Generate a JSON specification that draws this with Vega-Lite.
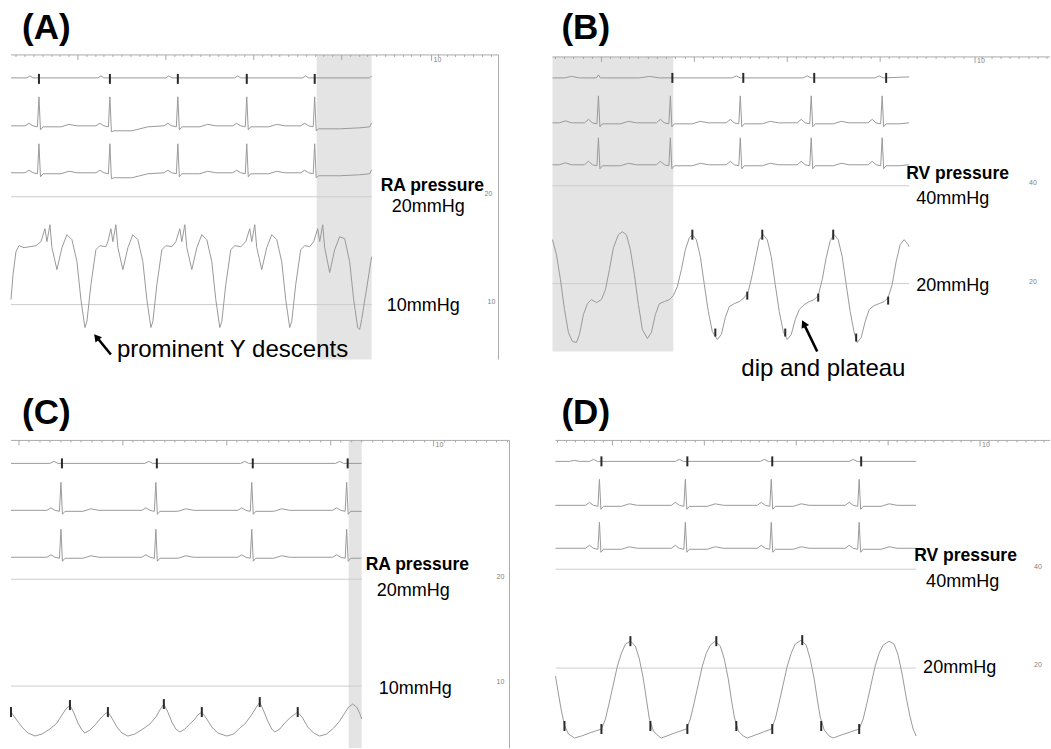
{
"$schema": "https://vega.github.io/schema/vega-lite/v6.json",
"width": 1051, "height": 749,
"autosize": {"type": "fit", "contains": "padding"},
"padding": 0,
"background": "white",
"config": {"view": {"stroke": null}},
"encoding": {
 "x": {"field": "x", "type": "quantitative", "scale": {"domain": [0, 1051], "nice": false, "zero": false}, "axis": null},
 "y": {"field": "y", "type": "quantitative", "scale": {"domain": [0, 749], "nice": false, "zero": false, "reverse": true}, "axis": null}
},
"datasets": {
 "shade": [
  {"p":"A","x":317,"x2":372,"y":55,"y2":360},
  {"p":"B","x":553,"x2":674,"y":57,"y2":352},
  {"p":"C","x":349,"x2":362,"y":441,"y2":749}
 ],
 "ln": [
  {"k":"ruler","x":11,"x2":499,"y":55,"y2":55},
  {"k":"ruler","x":553,"x2":1051,"y":57,"y2":57},
  {"k":"ruler","x":11,"x2":510,"y":441,"y2":441},
  {"k":"ruler","x":556,"x2":1051,"y":441,"y2":441},
  {"k":"ruler","x":499,"x2":499,"y":55,"y2":360},
  {"k":"ruler","x":510,"x2":510,"y":441,"y2":749},
  {"k":"ref","x":11,"x2":372,"y":197,"y2":197},
  {"k":"ref","x":11,"x2":372,"y":305,"y2":305},
  {"k":"ref","x":553,"x2":910,"y":186,"y2":186},
  {"k":"ref","x":553,"x2":910,"y":284,"y2":284},
  {"k":"ref","x":11,"x2":362,"y":580,"y2":580},
  {"k":"ref","x":11,"x2":362,"y":687,"y2":687},
  {"k":"ref","x":556,"x2":917,"y":570,"y2":570},
  {"k":"ref","x":556,"x2":917,"y":669,"y2":669}
 ],
 "rt": [
  {"x":16,"y":55,"y2":57},{"x":25,"y":55,"y2":57},{"x":34,"y":55,"y2":57},{"x":43,"y":55,"y2":57},{"x":52,"y":55,"y2":57},{"x":60,"y":55,"y2":57},{"x":69,"y":55,"y2":57},{"x":78,"y":55,"y2":60},{"x":87,"y":55,"y2":57},{"x":96,"y":55,"y2":57},{"x":104,"y":55,"y2":57},{"x":113,"y":55,"y2":57},{"x":122,"y":55,"y2":57},{"x":131,"y":55,"y2":57},{"x":140,"y":55,"y2":57},{"x":148,"y":55,"y2":57},{"x":157,"y":55,"y2":57},{"x":166,"y":55,"y2":60},{"x":175,"y":55,"y2":57},{"x":184,"y":55,"y2":57},{"x":192,"y":55,"y2":57},{"x":201,"y":55,"y2":57},{"x":210,"y":55,"y2":57},{"x":219,"y":55,"y2":57},{"x":228,"y":55,"y2":57},{"x":236,"y":55,"y2":57},{"x":245,"y":55,"y2":57},{"x":254,"y":55,"y2":60},{"x":263,"y":55,"y2":57},{"x":272,"y":55,"y2":57},{"x":280,"y":55,"y2":57},{"x":289,"y":55,"y2":57},{"x":298,"y":55,"y2":57},{"x":307,"y":55,"y2":57},{"x":316,"y":55,"y2":57},{"x":324,"y":55,"y2":57},{"x":333,"y":55,"y2":57},{"x":342,"y":55,"y2":60},{"x":351,"y":55,"y2":57},{"x":360,"y":55,"y2":57},{"x":368,"y":55,"y2":57},{"x":377,"y":55,"y2":57},{"x":386,"y":55,"y2":57},{"x":395,"y":55,"y2":57},{"x":404,"y":55,"y2":57},{"x":412,"y":55,"y2":57},{"x":421,"y":55,"y2":57},{"x":432,"y":55,"y2":61},{"x":439,"y":55,"y2":57},{"x":448,"y":55,"y2":57},{"x":456,"y":55,"y2":57},{"x":465,"y":55,"y2":57},{"x":474,"y":55,"y2":57},{"x":483,"y":55,"y2":57},{"x":492,"y":55,"y2":57},
  {"x":556,"y":57,"y2":59},{"x":565,"y":57,"y2":59},{"x":574,"y":57,"y2":59},{"x":584,"y":57,"y2":59},{"x":593,"y":57,"y2":59},{"x":602,"y":57,"y2":62},{"x":611,"y":57,"y2":59},{"x":621,"y":57,"y2":59},{"x":630,"y":57,"y2":59},{"x":639,"y":57,"y2":59},{"x":649,"y":57,"y2":59},{"x":658,"y":57,"y2":59},{"x":667,"y":57,"y2":59},{"x":676,"y":57,"y2":59},{"x":686,"y":57,"y2":59},{"x":695,"y":57,"y2":62},{"x":704,"y":57,"y2":59},{"x":714,"y":57,"y2":59},{"x":723,"y":57,"y2":59},{"x":732,"y":57,"y2":59},{"x":741,"y":57,"y2":59},{"x":751,"y":57,"y2":59},{"x":760,"y":57,"y2":59},{"x":769,"y":57,"y2":59},{"x":779,"y":57,"y2":59},{"x":788,"y":57,"y2":62},{"x":797,"y":57,"y2":59},{"x":807,"y":57,"y2":59},{"x":816,"y":57,"y2":59},{"x":825,"y":57,"y2":59},{"x":834,"y":57,"y2":59},{"x":844,"y":57,"y2":59},{"x":853,"y":57,"y2":59},{"x":862,"y":57,"y2":59},{"x":872,"y":57,"y2":59},{"x":881,"y":57,"y2":62},{"x":890,"y":57,"y2":59},{"x":900,"y":57,"y2":59},{"x":909,"y":57,"y2":59},{"x":918,"y":57,"y2":59},{"x":927,"y":57,"y2":59},{"x":937,"y":57,"y2":59},{"x":946,"y":57,"y2":59},{"x":955,"y":57,"y2":59},{"x":965,"y":57,"y2":59},{"x":976,"y":57,"y2":63},{"x":983,"y":57,"y2":59},{"x":993,"y":57,"y2":59},{"x":1002,"y":57,"y2":59},{"x":1011,"y":57,"y2":59},{"x":1020,"y":57,"y2":59},{"x":1030,"y":57,"y2":59},{"x":1039,"y":57,"y2":59},{"x":1048,"y":57,"y2":59},
  {"x":19,"y":441,"y2":446},{"x":29,"y":441,"y2":443},{"x":40,"y":441,"y2":443},{"x":50,"y":441,"y2":443},{"x":61,"y":441,"y2":443},{"x":71,"y":441,"y2":443},{"x":81,"y":441,"y2":443},{"x":92,"y":441,"y2":443},{"x":102,"y":441,"y2":443},{"x":113,"y":441,"y2":443},{"x":123,"y":441,"y2":446},{"x":133,"y":441,"y2":443},{"x":144,"y":441,"y2":443},{"x":154,"y":441,"y2":443},{"x":165,"y":441,"y2":443},{"x":175,"y":441,"y2":443},{"x":185,"y":441,"y2":443},{"x":196,"y":441,"y2":443},{"x":206,"y":441,"y2":443},{"x":217,"y":441,"y2":443},{"x":227,"y":441,"y2":446},{"x":237,"y":441,"y2":443},{"x":248,"y":441,"y2":443},{"x":258,"y":441,"y2":443},{"x":269,"y":441,"y2":443},{"x":279,"y":441,"y2":443},{"x":289,"y":441,"y2":443},{"x":300,"y":441,"y2":443},{"x":310,"y":441,"y2":443},{"x":321,"y":441,"y2":443},{"x":331,"y":441,"y2":446},{"x":341,"y":441,"y2":443},{"x":352,"y":441,"y2":443},{"x":362,"y":441,"y2":443},{"x":373,"y":441,"y2":443},{"x":383,"y":441,"y2":443},{"x":393,"y":441,"y2":443},{"x":404,"y":441,"y2":443},{"x":414,"y":441,"y2":443},{"x":425,"y":441,"y2":443},{"x":434,"y":441,"y2":447},{"x":445,"y":441,"y2":443},{"x":456,"y":441,"y2":443},{"x":466,"y":441,"y2":443},{"x":477,"y":441,"y2":443},{"x":487,"y":441,"y2":443},{"x":497,"y":441,"y2":443},{"x":508,"y":441,"y2":443},
  {"x":558,"y":441,"y2":443},{"x":567,"y":441,"y2":443},{"x":576,"y":441,"y2":443},{"x":585,"y":441,"y2":443},{"x":595,"y":441,"y2":443},{"x":604,"y":441,"y2":443},{"x":613,"y":441,"y2":446},{"x":622,"y":441,"y2":443},{"x":631,"y":441,"y2":443},{"x":641,"y":441,"y2":443},{"x":650,"y":441,"y2":443},{"x":659,"y":441,"y2":443},{"x":668,"y":441,"y2":443},{"x":677,"y":441,"y2":443},{"x":686,"y":441,"y2":443},{"x":696,"y":441,"y2":443},{"x":705,"y":441,"y2":446},{"x":714,"y":441,"y2":443},{"x":723,"y":441,"y2":443},{"x":732,"y":441,"y2":443},{"x":742,"y":441,"y2":443},{"x":751,"y":441,"y2":443},{"x":760,"y":441,"y2":443},{"x":769,"y":441,"y2":443},{"x":778,"y":441,"y2":443},{"x":788,"y":441,"y2":443},{"x":797,"y":441,"y2":446},{"x":806,"y":441,"y2":443},{"x":815,"y":441,"y2":443},{"x":824,"y":441,"y2":443},{"x":834,"y":441,"y2":443},{"x":843,"y":441,"y2":443},{"x":852,"y":441,"y2":443},{"x":861,"y":441,"y2":443},{"x":870,"y":441,"y2":443},{"x":880,"y":441,"y2":443},{"x":889,"y":441,"y2":446},{"x":898,"y":441,"y2":443},{"x":907,"y":441,"y2":443},{"x":916,"y":441,"y2":443},{"x":926,"y":441,"y2":443},{"x":935,"y":441,"y2":443},{"x":944,"y":441,"y2":443},{"x":953,"y":441,"y2":443},{"x":962,"y":441,"y2":443},{"x":972,"y":441,"y2":443},{"x":981,"y":441,"y2":447},{"x":990,"y":441,"y2":443},{"x":999,"y":441,"y2":443},{"x":1008,"y":441,"y2":443},{"x":1018,"y":441,"y2":443},{"x":1027,"y":441,"y2":443},{"x":1036,"y":441,"y2":443},{"x":1045,"y":441,"y2":443}
 ],
 "tr": [
  {"s":"A1","x":11,"y":78},{"s":"A1","x":27,"y":78},{"s":"A1","x":30,"y":76},{"s":"A1","x":33,"y":78},{"s":"A1","x":98,"y":78},{"s":"A1","x":101,"y":76},{"s":"A1","x":104,"y":78},{"s":"A1","x":166,"y":78},{"s":"A1","x":169,"y":76},{"s":"A1","x":172,"y":78},{"s":"A1","x":235,"y":78},{"s":"A1","x":238,"y":76},{"s":"A1","x":241,"y":78},{"s":"A1","x":303,"y":78},{"s":"A1","x":306,"y":76},{"s":"A1","x":309,"y":78},{"s":"A1","x":370,"y":78},{"s":"A1","x":372,"y":76},

  {"s":"A2","x":11,"y":126},{"s":"A2","x":25,"y":126},{"s":"A2","x":29,"y":123.5},{"s":"A2","x":33,"y":126},{"s":"A2","x":37.5,"y":127},{"s":"A2","x":39,"y":97},{"s":"A2","x":40.5,"y":130},{"s":"A2","x":43,"y":127},{"s":"A2","x":61,"y":127},{"s":"A2","x":69,"y":124.5},{"s":"A2","x":77,"y":126},
  {"s":"A2","x":96,"y":126},{"s":"A2","x":100,"y":123.5},{"s":"A2","x":104,"y":126},{"s":"A2","x":108.5,"y":127},{"s":"A2","x":110,"y":97},{"s":"A2","x":111.5,"y":132},{"s":"A2","x":114,"y":131},{"s":"A2","x":132,"y":131},{"s":"A2","x":140,"y":129},{"s":"A2","x":148,"y":127},
  {"s":"A2","x":164,"y":126},{"s":"A2","x":168,"y":123.5},{"s":"A2","x":172,"y":126},{"s":"A2","x":176.5,"y":127},{"s":"A2","x":178,"y":97},{"s":"A2","x":179.5,"y":130},{"s":"A2","x":182,"y":127},{"s":"A2","x":200,"y":127},{"s":"A2","x":208,"y":124.5},{"s":"A2","x":216,"y":126},
  {"s":"A2","x":233,"y":126},{"s":"A2","x":237,"y":123.5},{"s":"A2","x":241,"y":126},{"s":"A2","x":245.5,"y":127},{"s":"A2","x":247,"y":97},{"s":"A2","x":248.5,"y":130},{"s":"A2","x":251,"y":127},{"s":"A2","x":269,"y":127},{"s":"A2","x":277,"y":124.5},{"s":"A2","x":285,"y":126},
  {"s":"A2","x":301,"y":126},{"s":"A2","x":305,"y":123.5},{"s":"A2","x":309,"y":126},{"s":"A2","x":313.5,"y":127},{"s":"A2","x":315,"y":97},{"s":"A2","x":316.5,"y":131},{"s":"A2","x":319,"y":129},{"s":"A2","x":340,"y":129},{"s":"A2","x":360,"y":128},{"s":"A2","x":370,"y":127},{"s":"A2","x":372,"y":123},

  {"s":"A3","x":11,"y":173},{"s":"A3","x":25,"y":173},{"s":"A3","x":29,"y":170.5},{"s":"A3","x":33,"y":173},{"s":"A3","x":37.5,"y":174},{"s":"A3","x":39,"y":144},{"s":"A3","x":40.5,"y":177},{"s":"A3","x":43,"y":174},{"s":"A3","x":61,"y":174},{"s":"A3","x":69,"y":171.5},{"s":"A3","x":77,"y":173},
  {"s":"A3","x":96,"y":173},{"s":"A3","x":100,"y":170.5},{"s":"A3","x":104,"y":173},{"s":"A3","x":108.5,"y":174},{"s":"A3","x":110,"y":144},{"s":"A3","x":111.5,"y":179},{"s":"A3","x":114,"y":178},{"s":"A3","x":132,"y":178},{"s":"A3","x":140,"y":176},{"s":"A3","x":148,"y":174},
  {"s":"A3","x":164,"y":173},{"s":"A3","x":168,"y":170.5},{"s":"A3","x":172,"y":173},{"s":"A3","x":176.5,"y":174},{"s":"A3","x":178,"y":144},{"s":"A3","x":179.5,"y":177},{"s":"A3","x":182,"y":174},{"s":"A3","x":200,"y":174},{"s":"A3","x":208,"y":171.5},{"s":"A3","x":216,"y":173},
  {"s":"A3","x":233,"y":173},{"s":"A3","x":237,"y":170.5},{"s":"A3","x":241,"y":173},{"s":"A3","x":245.5,"y":174},{"s":"A3","x":247,"y":144},{"s":"A3","x":248.5,"y":177},{"s":"A3","x":251,"y":174},{"s":"A3","x":269,"y":174},{"s":"A3","x":277,"y":171.5},{"s":"A3","x":285,"y":173},
  {"s":"A3","x":301,"y":173},{"s":"A3","x":305,"y":170.5},{"s":"A3","x":309,"y":173},{"s":"A3","x":313.5,"y":174},{"s":"A3","x":315,"y":144},{"s":"A3","x":316.5,"y":178},{"s":"A3","x":319,"y":176},{"s":"A3","x":340,"y":176},{"s":"A3","x":360,"y":175},{"s":"A3","x":370,"y":174},{"s":"A3","x":372,"y":170},

  {"s":"A4","x":11,"y":300},{"s":"A4","x":13,"y":275},{"s":"A4","x":16,"y":252},{"s":"A4","x":19,"y":246},{"s":"A4","x":24,"y":248},{"s":"A4","x":30,"y":247},{"s":"A4","x":36,"y":246},
  {"s":"A4","x":41,"y":242},{"s":"A4","x":45,"y":229},{"s":"A4","x":47,"y":242},{"s":"A4","x":50,"y":225},{"s":"A4","x":52,"y":248},{"s":"A4","x":57,"y":270},{"s":"A4","x":62,"y":248},{"s":"A4","x":67,"y":235},{"s":"A4","x":72,"y":240},{"s":"A4","x":77,"y":262},{"s":"A4","x":81,"y":300},{"s":"A4","x":85,"y":328},{"s":"A4","x":87,"y":322},{"s":"A4","x":91,"y":285},{"s":"A4","x":96,"y":250},{"s":"A4","x":100,"y":246},{"s":"A4","x":106,"y":247},
  {"s":"A4","x":108,"y":242},{"s":"A4","x":111,"y":229},{"s":"A4","x":113,"y":242},{"s":"A4","x":116,"y":225},{"s":"A4","x":118,"y":248},{"s":"A4","x":123,"y":270},{"s":"A4","x":128,"y":248},{"s":"A4","x":133,"y":235},{"s":"A4","x":138,"y":240},{"s":"A4","x":143,"y":262},{"s":"A4","x":147,"y":300},{"s":"A4","x":151,"y":328},{"s":"A4","x":153,"y":322},{"s":"A4","x":157,"y":285},{"s":"A4","x":162,"y":250},{"s":"A4","x":166,"y":246},{"s":"A4","x":172,"y":247},
  {"s":"A4","x":176,"y":242},{"s":"A4","x":180,"y":229},{"s":"A4","x":182,"y":242},{"s":"A4","x":185,"y":225},{"s":"A4","x":187,"y":248},{"s":"A4","x":192,"y":270},{"s":"A4","x":197,"y":248},{"s":"A4","x":202,"y":235},{"s":"A4","x":207,"y":240},{"s":"A4","x":212,"y":262},{"s":"A4","x":216,"y":300},{"s":"A4","x":220,"y":328},{"s":"A4","x":222,"y":322},{"s":"A4","x":226,"y":285},{"s":"A4","x":231,"y":250},{"s":"A4","x":235,"y":246},{"s":"A4","x":241,"y":247},
  {"s":"A4","x":246,"y":242},{"s":"A4","x":250,"y":229},{"s":"A4","x":252,"y":242},{"s":"A4","x":255,"y":225},{"s":"A4","x":257,"y":248},{"s":"A4","x":262,"y":270},{"s":"A4","x":267,"y":248},{"s":"A4","x":272,"y":235},{"s":"A4","x":277,"y":240},{"s":"A4","x":282,"y":262},{"s":"A4","x":286,"y":300},{"s":"A4","x":290,"y":328},{"s":"A4","x":292,"y":322},{"s":"A4","x":296,"y":285},{"s":"A4","x":301,"y":250},{"s":"A4","x":305,"y":246},{"s":"A4","x":310,"y":247},
  {"s":"A4","x":314,"y":242},{"s":"A4","x":318,"y":229},{"s":"A4","x":320,"y":242},{"s":"A4","x":323,"y":225},{"s":"A4","x":325,"y":248},{"s":"A4","x":330,"y":273},{"s":"A4","x":335,"y":250},{"s":"A4","x":340,"y":237},{"s":"A4","x":345,"y":239},{"s":"A4","x":350,"y":262},{"s":"A4","x":354,"y":300},{"s":"A4","x":358,"y":328},{"s":"A4","x":360,"y":330},{"s":"A4","x":362,"y":320},{"s":"A4","x":366,"y":295},{"s":"A4","x":372,"y":257},

  {"s":"B1","x":553,"y":78},{"s":"B1","x":565,"y":78},{"s":"B1","x":572,"y":76.5},{"s":"B1","x":580,"y":78},{"s":"B1","x":597,"y":78},{"s":"B1","x":599,"y":75},{"s":"B1","x":601,"y":78},{"s":"B1","x":640,"y":78},{"s":"B1","x":650,"y":76.5},{"s":"B1","x":660,"y":78},{"s":"B1","x":733,"y":78},{"s":"B1","x":737,"y":76},{"s":"B1","x":741,"y":78},{"s":"B1","x":804,"y":78},{"s":"B1","x":808,"y":76},{"s":"B1","x":812,"y":78},{"s":"B1","x":876,"y":78},{"s":"B1","x":880,"y":76},{"s":"B1","x":884,"y":78},{"s":"B1","x":910,"y":77},

  {"s":"B2","x":553,"y":123},{"s":"B2","x":560,"y":123},{"s":"B2","x":566,"y":121},{"s":"B2","x":572,"y":123},
  {"s":"B2","x":585,"y":123},{"s":"B2","x":589,"y":119.5},{"s":"B2","x":593,"y":123},{"s":"B2","x":597.5,"y":124},{"s":"B2","x":599,"y":96},{"s":"B2","x":600.5,"y":127},{"s":"B2","x":603,"y":124},{"s":"B2","x":621,"y":124},{"s":"B2","x":629,"y":121.5},{"s":"B2","x":637,"y":123},
  {"s":"B2","x":657,"y":123},{"s":"B2","x":661,"y":119.5},{"s":"B2","x":665,"y":123},{"s":"B2","x":669.5,"y":124},{"s":"B2","x":671,"y":96},{"s":"B2","x":672.5,"y":127},{"s":"B2","x":675,"y":124},{"s":"B2","x":693,"y":124},{"s":"B2","x":701,"y":121.5},{"s":"B2","x":709,"y":123},
  {"s":"B2","x":727,"y":123},{"s":"B2","x":731,"y":119.5},{"s":"B2","x":735,"y":123},{"s":"B2","x":739.5,"y":124},{"s":"B2","x":741,"y":96},{"s":"B2","x":742.5,"y":127},{"s":"B2","x":745,"y":124},{"s":"B2","x":763,"y":124},{"s":"B2","x":771,"y":121.5},{"s":"B2","x":779,"y":123},
  {"s":"B2","x":798,"y":123},{"s":"B2","x":802,"y":119.5},{"s":"B2","x":806,"y":123},{"s":"B2","x":810.5,"y":124},{"s":"B2","x":812,"y":96},{"s":"B2","x":813.5,"y":127},{"s":"B2","x":816,"y":124},{"s":"B2","x":834,"y":124},{"s":"B2","x":842,"y":121.5},{"s":"B2","x":850,"y":123},
  {"s":"B2","x":869,"y":123},{"s":"B2","x":873,"y":119.5},{"s":"B2","x":877,"y":123},{"s":"B2","x":881.5,"y":124},{"s":"B2","x":883,"y":96},{"s":"B2","x":884.5,"y":127},{"s":"B2","x":887,"y":124},{"s":"B2","x":900,"y":124},{"s":"B2","x":910,"y":123},

  {"s":"B3","x":553,"y":165},{"s":"B3","x":560,"y":165},{"s":"B3","x":566,"y":163},{"s":"B3","x":572,"y":165},
  {"s":"B3","x":585,"y":165},{"s":"B3","x":589,"y":161.5},{"s":"B3","x":593,"y":165},{"s":"B3","x":597.5,"y":166},{"s":"B3","x":599,"y":138},{"s":"B3","x":600.5,"y":169},{"s":"B3","x":603,"y":166},{"s":"B3","x":621,"y":166},{"s":"B3","x":629,"y":163.5},{"s":"B3","x":637,"y":165},
  {"s":"B3","x":657,"y":165},{"s":"B3","x":661,"y":161.5},{"s":"B3","x":665,"y":165},{"s":"B3","x":669.5,"y":166},{"s":"B3","x":671,"y":138},{"s":"B3","x":672.5,"y":169},{"s":"B3","x":675,"y":166},{"s":"B3","x":693,"y":166},{"s":"B3","x":701,"y":163.5},{"s":"B3","x":709,"y":165},
  {"s":"B3","x":727,"y":165},{"s":"B3","x":731,"y":161.5},{"s":"B3","x":735,"y":165},{"s":"B3","x":739.5,"y":166},{"s":"B3","x":741,"y":138},{"s":"B3","x":742.5,"y":169},{"s":"B3","x":745,"y":166},{"s":"B3","x":763,"y":166},{"s":"B3","x":771,"y":163.5},{"s":"B3","x":779,"y":165},
  {"s":"B3","x":798,"y":165},{"s":"B3","x":802,"y":161.5},{"s":"B3","x":806,"y":165},{"s":"B3","x":810.5,"y":166},{"s":"B3","x":812,"y":138},{"s":"B3","x":813.5,"y":169},{"s":"B3","x":816,"y":166},{"s":"B3","x":834,"y":166},{"s":"B3","x":842,"y":163.5},{"s":"B3","x":850,"y":165},
  {"s":"B3","x":869,"y":165},{"s":"B3","x":873,"y":161.5},{"s":"B3","x":877,"y":165},{"s":"B3","x":881.5,"y":166},{"s":"B3","x":883,"y":138},{"s":"B3","x":884.5,"y":169},{"s":"B3","x":887,"y":166},{"s":"B3","x":900,"y":166},{"s":"B3","x":910,"y":165},

  {"s":"B4","x":553,"y":240},{"s":"B4","x":557,"y":255},{"s":"B4","x":561,"y":280},{"s":"B4","x":565,"y":310},{"s":"B4","x":569,"y":333},{"s":"B4","x":573,"y":342},{"s":"B4","x":577,"y":343},{"s":"B4","x":580,"y":335},{"s":"B4","x":584,"y":315},{"s":"B4","x":588,"y":304},{"s":"B4","x":592,"y":300},{"s":"B4","x":597,"y":303},{"s":"B4","x":602,"y":300},{"s":"B4","x":606,"y":290},{"s":"B4","x":610,"y":270},{"s":"B4","x":614,"y":248},{"s":"B4","x":619,"y":235},{"s":"B4","x":623,"y":232},{"s":"B4","x":627,"y":235},{"s":"B4","x":631,"y":250},{"s":"B4","x":635,"y":275},{"s":"B4","x":639,"y":305},{"s":"B4","x":643,"y":330},{"s":"B4","x":648,"y":339},{"s":"B4","x":652,"y":333},{"s":"B4","x":656,"y":315},{"s":"B4","x":660,"y":304},{"s":"B4","x":665,"y":302},{"s":"B4","x":670,"y":300},{"s":"B4","x":674,"y":296},{"s":"B4","x":678,"y":287},{"s":"B4","x":682,"y":270},{"s":"B4","x":686,"y":250},{"s":"B4","x":690,"y":238},{"s":"B4","x":693,"y":235},{"s":"B4","x":697,"y":240},{"s":"B4","x":701,"y":257},{"s":"B4","x":705,"y":285},{"s":"B4","x":709,"y":312},{"s":"B4","x":713,"y":332},{"s":"B4","x":718,"y":340},{"s":"B4","x":722,"y":335},{"s":"B4","x":726,"y":318},{"s":"B4","x":730,"y":307},{"s":"B4","x":735,"y":304},{"s":"B4","x":740,"y":302},{"s":"B4","x":745,"y":298},{"s":"B4","x":749,"y":292},{"s":"B4","x":753,"y":275},{"s":"B4","x":757,"y":255},{"s":"B4","x":760,"y":240},{"s":"B4","x":764,"y":235},{"s":"B4","x":768,"y":240},{"s":"B4","x":772,"y":257},{"s":"B4","x":776,"y":285},{"s":"B4","x":780,"y":312},{"s":"B4","x":784,"y":332},{"s":"B4","x":788,"y":340},{"s":"B4","x":792,"y":335},{"s":"B4","x":796,"y":320},{"s":"B4","x":800,"y":310},{"s":"B4","x":805,"y":305},{"s":"B4","x":810,"y":302},{"s":"B4","x":815,"y":300},{"s":"B4","x":819,"y":296},{"s":"B4","x":823,"y":280},{"s":"B4","x":827,"y":258},{"s":"B4","x":831,"y":241},{"s":"B4","x":835,"y":235},{"s":"B4","x":839,"y":240},{"s":"B4","x":843,"y":257},{"s":"B4","x":847,"y":285},{"s":"B4","x":851,"y":312},{"s":"B4","x":855,"y":333},{"s":"B4","x":858,"y":343},{"s":"B4","x":862,"y":338},{"s":"B4","x":866,"y":322},{"s":"B4","x":870,"y":310},{"s":"B4","x":875,"y":306},{"s":"B4","x":880,"y":304},{"s":"B4","x":885,"y":302},{"s":"B4","x":889,"y":298},{"s":"B4","x":893,"y":285},{"s":"B4","x":897,"y":262},{"s":"B4","x":901,"y":245},{"s":"B4","x":905,"y":240},{"s":"B4","x":909,"y":245},{"s":"B4","x":910,"y":247},

  {"s":"C1","x":11,"y":464},{"s":"C1","x":50,"y":464},{"s":"C1","x":54,"y":462},{"s":"C1","x":58,"y":464},{"s":"C1","x":145,"y":464},{"s":"C1","x":149,"y":462},{"s":"C1","x":153,"y":464},{"s":"C1","x":241,"y":464},{"s":"C1","x":245,"y":462},{"s":"C1","x":249,"y":464},{"s":"C1","x":336,"y":464},{"s":"C1","x":340,"y":462},{"s":"C1","x":344,"y":464},{"s":"C1","x":362,"y":464},

  {"s":"C2","x":11,"y":511},{"s":"C2","x":47,"y":511},{"s":"C2","x":51,"y":508.5},{"s":"C2","x":55,"y":511},{"s":"C2","x":59.5,"y":512},{"s":"C2","x":61,"y":483},{"s":"C2","x":62.5,"y":515},{"s":"C2","x":65,"y":512},{"s":"C2","x":83,"y":512},{"s":"C2","x":91,"y":509.5},{"s":"C2","x":99,"y":511},
  {"s":"C2","x":142,"y":511},{"s":"C2","x":146,"y":508.5},{"s":"C2","x":150,"y":511},{"s":"C2","x":154.5,"y":512},{"s":"C2","x":156,"y":483},{"s":"C2","x":157.5,"y":515},{"s":"C2","x":160,"y":512},{"s":"C2","x":178,"y":512},{"s":"C2","x":186,"y":509.5},{"s":"C2","x":194,"y":511},
  {"s":"C2","x":238,"y":511},{"s":"C2","x":242,"y":508.5},{"s":"C2","x":246,"y":511},{"s":"C2","x":250.5,"y":512},{"s":"C2","x":252,"y":483},{"s":"C2","x":253.5,"y":515},{"s":"C2","x":256,"y":512},{"s":"C2","x":274,"y":512},{"s":"C2","x":282,"y":509.5},{"s":"C2","x":290,"y":511},
  {"s":"C2","x":333,"y":511},{"s":"C2","x":337,"y":508.5},{"s":"C2","x":341,"y":511},{"s":"C2","x":345.5,"y":512},{"s":"C2","x":347,"y":483},{"s":"C2","x":348.5,"y":515},{"s":"C2","x":351,"y":512},{"s":"C2","x":362,"y":512},

  {"s":"C3","x":11,"y":558},{"s":"C3","x":47,"y":558},{"s":"C3","x":51,"y":555.5},{"s":"C3","x":55,"y":558},{"s":"C3","x":59.5,"y":559},{"s":"C3","x":61,"y":530},{"s":"C3","x":62.5,"y":562},{"s":"C3","x":65,"y":559},{"s":"C3","x":83,"y":559},{"s":"C3","x":91,"y":556.5},{"s":"C3","x":99,"y":558},
  {"s":"C3","x":142,"y":558},{"s":"C3","x":146,"y":555.5},{"s":"C3","x":150,"y":558},{"s":"C3","x":154.5,"y":559},{"s":"C3","x":156,"y":530},{"s":"C3","x":157.5,"y":562},{"s":"C3","x":160,"y":559},{"s":"C3","x":178,"y":559},{"s":"C3","x":186,"y":556.5},{"s":"C3","x":194,"y":558},
  {"s":"C3","x":238,"y":558},{"s":"C3","x":242,"y":555.5},{"s":"C3","x":246,"y":558},{"s":"C3","x":250.5,"y":559},{"s":"C3","x":252,"y":530},{"s":"C3","x":253.5,"y":562},{"s":"C3","x":256,"y":559},{"s":"C3","x":274,"y":559},{"s":"C3","x":282,"y":556.5},{"s":"C3","x":290,"y":558},
  {"s":"C3","x":333,"y":558},{"s":"C3","x":337,"y":555.5},{"s":"C3","x":341,"y":558},{"s":"C3","x":345.5,"y":559},{"s":"C3","x":347,"y":530},{"s":"C3","x":348.5,"y":562},{"s":"C3","x":351,"y":559},{"s":"C3","x":362,"y":559},

  {"s":"C4","x":11,"y":713},{"s":"C4","x":16,"y":720},{"s":"C4","x":22,"y":728},{"s":"C4","x":28,"y":734},{"s":"C4","x":35,"y":737},{"s":"C4","x":42,"y":735},{"s":"C4","x":50,"y":730},{"s":"C4","x":57,"y":724},{"s":"C4","x":62,"y":716},{"s":"C4","x":66,"y":710},{"s":"C4","x":70,"y":706},{"s":"C4","x":74,"y":714},{"s":"C4","x":78,"y":724},{"s":"C4","x":82,"y":731},{"s":"C4","x":85,"y":734},{"s":"C4","x":90,"y":731},{"s":"C4","x":96,"y":725},{"s":"C4","x":101,"y":719},{"s":"C4","x":105,"y":715},{"s":"C4","x":108,"y":713},{"s":"C4","x":112,"y":719},{"s":"C4","x":117,"y":728},{"s":"C4","x":122,"y":734},{"s":"C4","x":128,"y":737},{"s":"C4","x":135,"y":735},{"s":"C4","x":143,"y":730},{"s":"C4","x":150,"y":725},{"s":"C4","x":156,"y":718},{"s":"C4","x":160,"y":711},{"s":"C4","x":164,"y":705},{"s":"C4","x":168,"y":713},{"s":"C4","x":172,"y":723},{"s":"C4","x":176,"y":730},{"s":"C4","x":180,"y":733},{"s":"C4","x":185,"y":730},{"s":"C4","x":190,"y":725},{"s":"C4","x":195,"y":720},{"s":"C4","x":198,"y":716},{"s":"C4","x":202,"y":713},{"s":"C4","x":207,"y":720},{"s":"C4","x":212,"y":728},{"s":"C4","x":218,"y":734},{"s":"C4","x":227,"y":737},{"s":"C4","x":234,"y":735},{"s":"C4","x":240,"y":729},{"s":"C4","x":245,"y":725},{"s":"C4","x":251,"y":717},{"s":"C4","x":256,"y":709},{"s":"C4","x":260,"y":703},{"s":"C4","x":264,"y":712},{"s":"C4","x":268,"y":722},{"s":"C4","x":272,"y":730},{"s":"C4","x":275,"y":733},{"s":"C4","x":280,"y":730},{"s":"C4","x":285,"y":724},{"s":"C4","x":290,"y":719},{"s":"C4","x":294,"y":716},{"s":"C4","x":298,"y":713},{"s":"C4","x":303,"y":719},{"s":"C4","x":308,"y":728},{"s":"C4","x":314,"y":734},{"s":"C4","x":320,"y":737},{"s":"C4","x":327,"y":735},{"s":"C4","x":334,"y":729},{"s":"C4","x":340,"y":722},{"s":"C4","x":345,"y":714},{"s":"C4","x":349,"y":708},{"s":"C4","x":353,"y":705},{"s":"C4","x":357,"y":708},{"s":"C4","x":360,"y":714},{"s":"C4","x":362,"y":720},

  {"s":"D1","x":556,"y":462},{"s":"D1","x":570,"y":462},{"s":"D1","x":575,"y":461},{"s":"D1","x":580,"y":462},{"s":"D1","x":590,"y":462},{"s":"D1","x":594,"y":460},{"s":"D1","x":598,"y":462},{"s":"D1","x":676,"y":462},{"s":"D1","x":680,"y":460},{"s":"D1","x":684,"y":462},{"s":"D1","x":761,"y":462},{"s":"D1","x":765,"y":460},{"s":"D1","x":769,"y":462},{"s":"D1","x":850,"y":462},{"s":"D1","x":854,"y":460},{"s":"D1","x":858,"y":462},{"s":"D1","x":917,"y":462},

  {"s":"D2","x":556,"y":506},{"s":"D2","x":586,"y":506},{"s":"D2","x":590,"y":503},{"s":"D2","x":594,"y":506},{"s":"D2","x":598.5,"y":507},{"s":"D2","x":600,"y":480},{"s":"D2","x":601.5,"y":510},{"s":"D2","x":604,"y":507},{"s":"D2","x":622,"y":507},{"s":"D2","x":630,"y":504.5},{"s":"D2","x":638,"y":506},
  {"s":"D2","x":672,"y":506},{"s":"D2","x":676,"y":503},{"s":"D2","x":680,"y":506},{"s":"D2","x":684.5,"y":507},{"s":"D2","x":686,"y":480},{"s":"D2","x":687.5,"y":510},{"s":"D2","x":690,"y":507},{"s":"D2","x":708,"y":507},{"s":"D2","x":716,"y":504.5},{"s":"D2","x":724,"y":506},
  {"s":"D2","x":758,"y":506},{"s":"D2","x":762,"y":503},{"s":"D2","x":766,"y":506},{"s":"D2","x":770.5,"y":507},{"s":"D2","x":772,"y":480},{"s":"D2","x":773.5,"y":510},{"s":"D2","x":776,"y":507},{"s":"D2","x":794,"y":507},{"s":"D2","x":802,"y":504.5},{"s":"D2","x":810,"y":506},
  {"s":"D2","x":846,"y":506},{"s":"D2","x":850,"y":503},{"s":"D2","x":854,"y":506},{"s":"D2","x":858.5,"y":507},{"s":"D2","x":860,"y":480},{"s":"D2","x":861.5,"y":510},{"s":"D2","x":864,"y":507},{"s":"D2","x":882,"y":507},{"s":"D2","x":890,"y":504.5},{"s":"D2","x":898,"y":506},{"s":"D2","x":917,"y":506},

  {"s":"D3","x":556,"y":549},{"s":"D3","x":586,"y":549},{"s":"D3","x":590,"y":546},{"s":"D3","x":594,"y":549},{"s":"D3","x":598.5,"y":550},{"s":"D3","x":600,"y":523},{"s":"D3","x":601.5,"y":553},{"s":"D3","x":604,"y":550},{"s":"D3","x":622,"y":550},{"s":"D3","x":630,"y":547.5},{"s":"D3","x":638,"y":549},
  {"s":"D3","x":672,"y":549},{"s":"D3","x":676,"y":546},{"s":"D3","x":680,"y":549},{"s":"D3","x":684.5,"y":550},{"s":"D3","x":686,"y":523},{"s":"D3","x":687.5,"y":553},{"s":"D3","x":690,"y":550},{"s":"D3","x":708,"y":550},{"s":"D3","x":716,"y":547.5},{"s":"D3","x":724,"y":549},
  {"s":"D3","x":758,"y":549},{"s":"D3","x":762,"y":546},{"s":"D3","x":766,"y":549},{"s":"D3","x":770.5,"y":550},{"s":"D3","x":772,"y":523},{"s":"D3","x":773.5,"y":553},{"s":"D3","x":776,"y":550},{"s":"D3","x":794,"y":550},{"s":"D3","x":802,"y":547.5},{"s":"D3","x":810,"y":549},
  {"s":"D3","x":846,"y":549},{"s":"D3","x":850,"y":546},{"s":"D3","x":854,"y":549},{"s":"D3","x":858.5,"y":550},{"s":"D3","x":860,"y":523},{"s":"D3","x":861.5,"y":553},{"s":"D3","x":864,"y":550},{"s":"D3","x":882,"y":550},{"s":"D3","x":890,"y":547.5},{"s":"D3","x":898,"y":549},{"s":"D3","x":917,"y":549},

  {"s":"D4","x":556,"y":677},{"s":"D4","x":559,"y":695},{"s":"D4","x":562,"y":712},{"s":"D4","x":565,"y":726},{"s":"D4","x":569,"y":735},{"s":"D4","x":575,"y":739},{"s":"D4","x":582,"y":737},{"s":"D4","x":590,"y":734},{"s":"D4","x":596,"y":732},{"s":"D4","x":602,"y":730},{"s":"D4","x":606,"y":720},{"s":"D4","x":610,"y":703},{"s":"D4","x":614,"y":685},{"s":"D4","x":618,"y":667},{"s":"D4","x":622,"y":654},{"s":"D4","x":626,"y":645},{"s":"D4","x":631,"y":642},{"s":"D4","x":636,"y":647},{"s":"D4","x":640,"y":660},{"s":"D4","x":644,"y":680},{"s":"D4","x":647,"y":700},{"s":"D4","x":650,"y":720},{"s":"D4","x":654,"y":732},{"s":"D4","x":659,"y":737},{"s":"D4","x":662,"y":739},{"s":"D4","x":670,"y":736},{"s":"D4","x":678,"y":733},{"s":"D4","x":687,"y":730},{"s":"D4","x":691,"y":720},{"s":"D4","x":695,"y":703},{"s":"D4","x":699,"y":685},{"s":"D4","x":703,"y":667},{"s":"D4","x":707,"y":654},{"s":"D4","x":711,"y":646},{"s":"D4","x":716,"y":642},{"s":"D4","x":721,"y":647},{"s":"D4","x":725,"y":660},{"s":"D4","x":729,"y":680},{"s":"D4","x":732,"y":700},{"s":"D4","x":735,"y":718},{"s":"D4","x":739,"y":732},{"s":"D4","x":744,"y":737},{"s":"D4","x":748,"y":739},{"s":"D4","x":756,"y":736},{"s":"D4","x":764,"y":733},{"s":"D4","x":772,"y":730},{"s":"D4","x":776,"y":720},{"s":"D4","x":780,"y":703},{"s":"D4","x":784,"y":685},{"s":"D4","x":788,"y":667},{"s":"D4","x":792,"y":654},{"s":"D4","x":796,"y":645},{"s":"D4","x":802,"y":641},{"s":"D4","x":807,"y":646},{"s":"D4","x":811,"y":660},{"s":"D4","x":815,"y":680},{"s":"D4","x":818,"y":700},{"s":"D4","x":821,"y":718},{"s":"D4","x":825,"y":731},{"s":"D4","x":830,"y":737},{"s":"D4","x":834,"y":739},{"s":"D4","x":842,"y":736},{"s":"D4","x":851,"y":733},{"s":"D4","x":860,"y":730},{"s":"D4","x":864,"y":720},{"s":"D4","x":868,"y":703},{"s":"D4","x":872,"y":685},{"s":"D4","x":876,"y":667},{"s":"D4","x":880,"y":654},{"s":"D4","x":884,"y":646},{"s":"D4","x":890,"y":642},{"s":"D4","x":895,"y":645},{"s":"D4","x":899,"y":656},{"s":"D4","x":903,"y":675},{"s":"D4","x":907,"y":698},{"s":"D4","x":911,"y":718},{"s":"D4","x":914,"y":730},{"s":"D4","x":917,"y":737}
 ],
 "mk": [
  {"x":39,"y":74,"y2":84},{"x":110,"y":74,"y2":84},{"x":178,"y":74,"y2":84},{"x":247,"y":74,"y2":84},{"x":315,"y":74,"y2":84},
  {"x":673,"y":73,"y2":83},{"x":744,"y":73,"y2":83},{"x":815,"y":73,"y2":83},{"x":887,"y":73,"y2":83},
  {"x":693,"y":230,"y2":240},{"x":763,"y":230,"y2":240},{"x":834,"y":230,"y2":240},{"x":716,"y":329,"y2":337},{"x":786,"y":329,"y2":337},{"x":857,"y":334,"y2":342},{"x":748,"y":292,"y2":300},{"x":819,"y":294,"y2":302},{"x":889,"y":297,"y2":305},
  {"x":62,"y":459,"y2":469},{"x":157,"y":459,"y2":469},{"x":253,"y":459,"y2":469},{"x":348,"y":459,"y2":469},
  {"x":11,"y":708,"y2":718},{"x":70,"y":701,"y2":711},{"x":108,"y":708,"y2":718},{"x":164,"y":700,"y2":710},{"x":202,"y":708,"y2":718},{"x":260,"y":698,"y2":708},{"x":298,"y":708,"y2":718},
  {"x":602,"y":457,"y2":467},{"x":688,"y":457,"y2":467},{"x":773,"y":457,"y2":467},{"x":862,"y":457,"y2":467},
  {"x":631,"y":637,"y2":647},{"x":717,"y":637,"y2":647},{"x":803,"y":636,"y2":646},{"x":565,"y":722,"y2":732},{"x":602,"y":725,"y2":735},{"x":651,"y":722,"y2":732},{"x":688,"y":725,"y2":735},{"x":737,"y":722,"y2":732},{"x":773,"y":725,"y2":735},{"x":822,"y":722,"y2":732},{"x":860,"y":725,"y2":735}
 ],
 "arrows": [
  {"id":"A","x":111,"y":355,"x2":97.5,"y2":338.5},
  {"id":"B","x":818,"y":352,"x2":805,"y2":325}
 ],
 "heads": [
  {"id":"A","x":96.5,"y":337.5},
  {"id":"B","x":804.5,"y":324}
 ],
 "txt": [
  {"k":"title","t":"(A)","x":22,"y":39},
  {"k":"title","t":"(B)","x":562,"y":39},
  {"k":"title","t":"(C)","x":22,"y":425},
  {"k":"title","t":"(D)","x":562,"y":425},
  {"k":"bold","t":"RA pressure","x":381,"y":191},
  {"k":"bold","t":"RV pressure","x":907,"y":179},
  {"k":"bold","t":"RA pressure","x":366,"y":571},
  {"k":"bold","t":"RV pressure","x":915,"y":562},
  {"k":"lab","t":"20mmHg","x":392,"y":212},
  {"k":"lab","t":"10mmHg","x":387,"y":311},
  {"k":"lab","t":"40mmHg","x":917,"y":204},
  {"k":"lab","t":"20mmHg","x":917,"y":291},
  {"k":"lab","t":"20mmHg","x":377,"y":597},
  {"k":"lab","t":"10mmHg","x":379,"y":695},
  {"k":"lab","t":"40mmHg","x":927,"y":588},
  {"k":"lab","t":"20mmHg","x":924,"y":674},
  {"k":"note","t":"prominent Y descents","x":117,"y":357},
  {"k":"note","t":"dip and plateau","x":742,"y":377},
  {"k":"tiny","t":"20","x":485,"y":196},
  {"k":"tiny","t":"10","x":488,"y":304},
  {"k":"tiny","t":"10","x":434,"y":62},
  {"k":"tiny","t":"40","x":1030,"y":185},
  {"k":"tiny","t":"20","x":1030,"y":284},
  {"k":"tiny","t":"10","x":978,"y":63},
  {"k":"tiny","t":"20","x":497,"y":580},
  {"k":"tiny","t":"10","x":497,"y":685},
  {"k":"tiny","t":"10","x":436,"y":448},
  {"k":"tiny","t":"40","x":1035,"y":570},
  {"k":"tiny","t":"20","x":1035,"y":668},
  {"k":"tiny","t":"10","x":983,"y":448}
 ]
},
"layer": [
 {"data": {"name": "shade"}, "mark": {"type": "rect", "fill": "#e4e4e4"},
  "encoding": {"x2": {"field": "x2"}, "y2": {"field": "y2"}}},
 {"data": {"name": "ln"}, "mark": {"type": "rule", "strokeWidth": 1},
  "encoding": {"x2": {"field": "x2"}, "y2": {"field": "y2"},
   "color": {"field": "k", "type": "nominal", "scale": {"domain": ["ruler", "ref"], "range": ["#ababab", "#cdcdcd"]}, "legend": null}}},
 {"data": {"name": "rt"}, "mark": {"type": "rule", "strokeWidth": 1, "color": "#a6a6a6"},
  "encoding": {"y2": {"field": "y2"}}},
 {"data": {"name": "tr"}, "mark": {"type": "line", "strokeWidth": 1, "color": "#9a9a9a"},
  "encoding": {"detail": {"field": "s", "type": "nominal"}}},
 {"data": {"name": "mk"}, "mark": {"type": "rule", "strokeWidth": 2, "color": "#2a2a2a"},
  "encoding": {"y2": {"field": "y2"}}},
 {"data": {"name": "arrows"}, "mark": {"type": "rule", "strokeWidth": 2.6, "color": "#000000"},
  "encoding": {"x2": {"field": "x2"}, "y2": {"field": "y2"}}},
 {"data": {"name": "heads"}, "transform": [{"filter": "datum.id === 'A'"}],
  "mark": {"type": "point", "shape": "triangle-up", "filled": true, "color": "#000000", "size": 70, "angle": 320, "opacity": 1}, "encoding": {}},
 {"data": {"name": "heads"}, "transform": [{"filter": "datum.id === 'B'"}],
  "mark": {"type": "point", "shape": "triangle-up", "filled": true, "color": "#000000", "size": 70, "angle": 334, "opacity": 1}, "encoding": {}},
 {"data": {"name": "txt"}, "transform": [{"filter": "datum.k === 'title'"}],
  "mark": {"type": "text", "font": "Liberation Sans", "fontSize": 35, "fontWeight": "bold", "align": "left", "baseline": "alphabetic", "color": "#000000"},
  "encoding": {"text": {"field": "t"}}},
 {"data": {"name": "txt"}, "transform": [{"filter": "datum.k === 'bold'"}],
  "mark": {"type": "text", "font": "Liberation Sans", "fontSize": 17.5, "fontWeight": "bold", "align": "left", "baseline": "alphabetic", "color": "#000000"},
  "encoding": {"text": {"field": "t"}}},
 {"data": {"name": "txt"}, "transform": [{"filter": "datum.k === 'lab'"}],
  "mark": {"type": "text", "font": "Liberation Sans", "fontSize": 18, "align": "left", "baseline": "alphabetic", "color": "#000000"},
  "encoding": {"text": {"field": "t"}}},
 {"data": {"name": "txt"}, "transform": [{"filter": "datum.k === 'note'"}],
  "mark": {"type": "text", "font": "Liberation Sans", "fontSize": 24, "align": "left", "baseline": "alphabetic", "color": "#000000"},
  "encoding": {"text": {"field": "t"}}},
 {"data": {"name": "txt"}, "transform": [{"filter": "datum.k === 'tiny'"}],
  "mark": {"type": "text", "font": "Liberation Sans", "fontSize": 7, "align": "left", "baseline": "alphabetic", "color": "#808080"},
  "encoding": {"text": {"field": "t"}}}
]
}
